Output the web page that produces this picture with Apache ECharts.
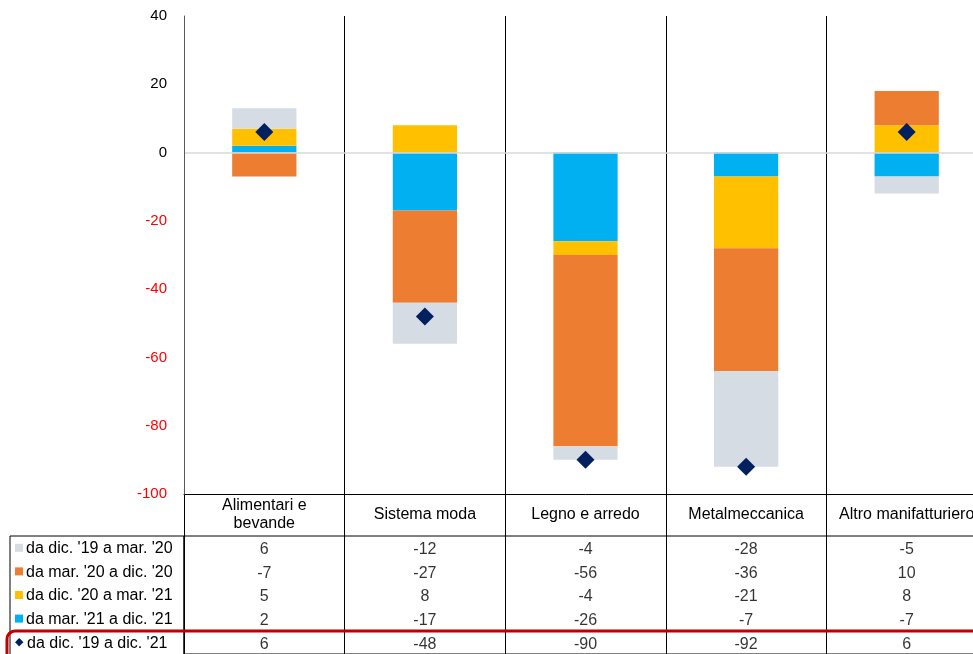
<!DOCTYPE html>
<html>
<head>
<meta charset="utf-8">
<script src="https://cdn.jsdelivr.net/npm/echarts@6/dist/echarts.min.js"></script>
<style>html,body{margin:0;padding:0;background:#fff;overflow:hidden}#c{width:990px;height:654px}</style>
</head>
<body>
<div id="c"></div>
<script>
// ---- data ----
var categories = ['Alimentari e\nbevande', 'Sistema moda', 'Legno e arredo', 'Metalmeccanica', 'Altro manifatturiero'];
var rowNames = ["da dic. '19 a mar. '20", "da mar. '20 a dic. '20", "da dic. '20 a mar. '21", "da mar. '21 a dic. '21", "da dic. '19 a dic. '21"];
var greyVals   = [6, -12, -4, -28, -5];
var orangeVals = [-7, -27, -56, -36, 10];
var yellowVals = [5, 8, -4, -21, 8];
var blueVals   = [2, -17, -26, -7, -7];
var totalVals  = [6, -48, -90, -92, 6];
var yTicks = [-100, -80, -60, -40, -20, 0, 20, 40];

// ---- styles / layout ----
var C = {grey:'#D6DCE4', orange:'#ED7D31', yellow:'#FFC000', blue:'#00B0F0', navy:'#002060'};
var FONT = 'Liberation Sans, Arial, sans-serif';
var L = {left:184, top:16, width:803, chartH:478, headerH:42, rowH:24, legendLeft:10};
var tableTop = L.top + L.chartH + L.headerH;
var tableH = L.rowH * rowNames.length;

var rowVals = [greyVals, orangeVals, yellowVals, blueVals, totalVals];
var markerColors = [C.grey, C.orange, C.yellow, C.blue, C.navy];
var tableData = [];
rowVals.forEach(function (arr, r) { arr.forEach(function (v, c) { tableData.push([c, r, v]); }); });

var chart = echarts.init(document.getElementById('c'));
chart.setOption({
  animation: false,
  textStyle: {fontFamily: FONT},
  grid: [
    {left: L.left, top: L.top, width: L.width, height: L.chartH},
    {left: L.left, top: tableTop, width: L.width, height: tableH, show: true, borderColor: '#000', borderWidth: 1, backgroundColor: 'transparent'},
    {left: L.left, top: L.top, width: L.width, height: L.chartH + L.headerH + tableH}
  ],
  xAxis: [
    {gridIndex: 0, type: 'category', data: categories,
     axisLine: {onZero: false, lineStyle: {color: '#000', width: 1}}, axisTick: {show: false},
     axisLabel: {interval: 0, color: '#000', fontSize: 16, fontFamily: FONT, margin: 21, verticalAlign: 'middle', lineHeight: 18},
     splitLine: {show: false}, z: 5},
    {gridIndex: 1, type: 'category', data: categories, axisLine: {show: false}, axisTick: {show: false}, axisLabel: {show: false}, splitLine: {show: false}},
    {gridIndex: 2, type: 'category', data: categories, axisLine: {show: false}, axisTick: {show: false}, axisLabel: {show: false},
     splitLine: {show: true, interval: 0, lineStyle: {color: '#000', width: 1}}}
  ],
  yAxis: [
    {gridIndex: 0, type: 'value', min: yTicks[0], max: yTicks[yTicks.length - 1], interval: 20,
     axisLine: {show: true, lineStyle: {color: '#595959', width: 1}}, axisTick: {show: false},
     axisLabel: {fontSize: 15, fontFamily: FONT, margin: 17, color: function (v) { return Number(v) < 0 ? '#FF0000' : '#000'; }},
     splitLine: {show: false}, z: 6},
    {gridIndex: 1, type: 'category', data: rowNames, inverse: true, axisLine: {show: false}, axisTick: {show: false},
     axisLabel: {interval: 0, align: 'left', margin: L.left - L.legendLeft - 5,
       formatter: function (v, i) { return (i === 4 ? '{d|◆}' : '{m' + i + '|}') + '{t|' + v + '}'; },
       rich: {
         m0: {width: 8, height: 8, backgroundColor: markerColors[0]},
         m1: {width: 8, height: 8, backgroundColor: markerColors[1]},
         m2: {width: 8, height: 8, backgroundColor: markerColors[2]},
         m3: {width: 8, height: 8, backgroundColor: markerColors[3]},
         d: {color: C.navy, fontSize: 11, width: 9, fontFamily: 'DejaVu Sans'},
         t: {color: '#000', fontSize: 16, fontFamily: FONT, padding: [2, 0, 0, 3]}
       }},
     splitLine: {show: false}},
    {gridIndex: 2, type: 'value', min: 0, max: 1, show: false}
  ],
  graphic: [
    {type: 'rect', shape: {x: L.legendLeft, y: tableTop, width: L.left - L.legendLeft, height: tableH}, style: {fill: 'none', stroke: '#000', lineWidth: 1}, z: 10},
    {type: 'rect', shape: {x: 7, y: 631, width: 1000, height: 40, r: 8}, style: {fill: 'none', stroke: '#C00000', lineWidth: 3}, z: 20}
  ],
  series: [
    {name: rowNames[3], type: 'bar', stack: 'a', xAxisIndex: 0, yAxisIndex: 0, data: blueVals, barWidth: '40%', itemStyle: {color: C.blue},
     markLine: {silent: true, symbol: 'none', label: {show: false}, lineStyle: {color: '#D9D9D9', type: 'solid', width: 1.5}, data: [{yAxis: 0}]}},
    {name: rowNames[2], type: 'bar', stack: 'a', xAxisIndex: 0, yAxisIndex: 0, data: yellowVals, barWidth: '40%', itemStyle: {color: C.yellow}},
    {name: rowNames[1], type: 'bar', stack: 'a', xAxisIndex: 0, yAxisIndex: 0, data: orangeVals, barWidth: '40%', itemStyle: {color: C.orange}},
    {name: rowNames[0], type: 'bar', stack: 'a', xAxisIndex: 0, yAxisIndex: 0, data: greyVals, barWidth: '40%', itemStyle: {color: C.grey}},
    {name: rowNames[4], type: 'scatter', xAxisIndex: 0, yAxisIndex: 0, data: totalVals, symbol: 'diamond', symbolSize: 18, itemStyle: {color: C.navy, opacity: 1}, z: 10},
    {type: 'scatter', xAxisIndex: 1, yAxisIndex: 1, data: tableData, symbolSize: 1, itemStyle: {color: 'rgba(0,0,0,0)'},
     label: {show: true, position: 'inside', offset: [0, 2], color: '#000', fontSize: 16, fontFamily: FONT, formatter: function (p) { return String(p.value[2]); }}}
  ]
});
</script>
</body>
</html>
